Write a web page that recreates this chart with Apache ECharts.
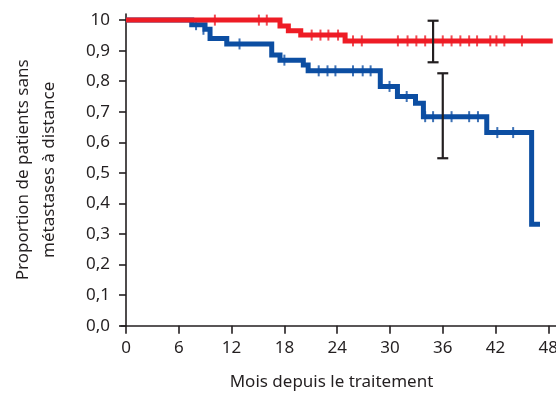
<!DOCTYPE html>
<html>
<head>
<meta charset="utf-8">
<script src="https://cdn.jsdelivr.net/npm/echarts@6/dist/echarts.min.js"></script>
<style>html,body{margin:0;padding:0;background:#fff;}#c{width:556px;height:395px;}</style>
</head>
<body>
<div id="c"></div>
<script>
// Kaplan-Meier curves (time in months, survival proportion after that time)
const redTimes = [0, 17.5, 18.45, 19.86, 24.9, 48.5];
const redSurv  = [1.0, 0.981, 0.965, 0.951, 0.932, 0.932];
const blueTimes = [0, 7.47, 8.98, 9.55, 11.45, 16.56, 17.5, 20.15, 20.7, 28.9, 30.85, 32.9, 33.8, 41.0, 46.1, 47.05];
const blueSurv  = [1.0, 0.985, 0.970, 0.940, 0.922, 0.886, 0.869, 0.853, 0.834, 0.783, 0.750, 0.728, 0.684, 0.632, 0.332, 0.332];
// censor marks
const redCensorT = [10.1, 15.1, 16.0, 21.1, 22.1, 23.0, 24.1, 25.8, 26.8, 30.9, 32.0, 33.0, 34.0, 36.0, 37.0, 38.0, 39.0, 39.9, 41.4, 42.1, 43.0, 45.0];
const redCensorS = [1.0, 1.0, 1.0, 0.951, 0.951, 0.951, 0.951, 0.932, 0.932, 0.932, 0.932, 0.932, 0.932, 0.932, 0.932, 0.932, 0.932, 0.932, 0.932, 0.932, 0.932, 0.932];
const blueCensorT = [7.96, 8.8, 12.9, 18.0, 21.9, 22.9, 23.8, 25.8, 26.9, 27.8, 29.95, 31.9, 34.0, 34.9, 37.0, 39.0, 40.0, 42.2, 44.0];
const blueCensorS = [0.985, 0.970, 0.922, 0.869, 0.834, 0.834, 0.834, 0.834, 0.834, 0.834, 0.783, 0.750, 0.684, 0.684, 0.684, 0.684, 0.684, 0.632, 0.632];
// error bars
const errX    = [34.9, 36.0];
const errLow  = [0.862, 0.548];
const errHigh = [0.998, 0.826];
// ticks
const xTickValues = [0, 6, 12, 18, 24, 30, 36, 42, 48];
const yTickValues = [0, 0.1, 0.2, 0.3, 0.4, 0.5, 0.6, 0.7, 0.8, 0.9, 1.0];
const yTickLabels = ['0,0', '0,1', '0,2', '0,3', '0,4', '0,5', '0,6', '0,7', '0,8', '0,9', '10'];
const xAxisTitle = 'Mois depuis le traitement';
const yAxisTitle = 'Proportion de patients sans\nmétastases à distance';

const RED = '#ee1c25', BLUE = '#0c4ea2', INK = '#231f20';
const FONT = 'Noto Sans';

const zip = (a, b) => a.map((v, i) => [v, b[i]]);

const chart = echarts.init(document.getElementById('c'), null, {renderer: 'canvas'});
chart.setOption({
  animation: false,
  backgroundColor: '#fff',
  grid: {left: 121, right: 0, top: 14, bottom: 69.3, containLabel: false, outerBoundsMode: 'none'},
  xAxis: {
    type: 'value', min: -0.57, max: 48.87,
    splitLine: {show: false},
    axisLine: {lineStyle: {color: INK, width: 1.6}},
    axisTick: {customValues: xTickValues, length: 8, lineStyle: {color: INK, width: 1.6}},
    axisLabel: {customValues: xTickValues, color: INK, fontFamily: FONT, fontSize: 17, margin: 14, hideOverlap: false},
    name: xAxisTitle, nameLocation: 'middle', nameGap: 48,
    nameTextStyle: {color: INK, fontFamily: FONT, fontSize: 17, padding: [0, 14, 0, 0]}
  },
  yAxis: {
    type: 'value', min: 0, max: 1.02,
    splitLine: {show: false},
    axisLine: {show: true, lineStyle: {color: INK, width: 1.6}},
    axisTick: {show: true, customValues: yTickValues, length: 7, lineStyle: {color: INK, width: 1.6}},
    axisLabel: {customValues: yTickValues, color: INK, fontFamily: FONT, fontSize: 17, margin: 11, hideOverlap: false,
      formatter: v => { const i = yTickValues.findIndex(t => Math.abs(t - v) < 1e-6); return i >= 0 ? yTickLabels[i] : ''; }},
    name: yAxisTitle, nameLocation: 'middle', nameGap: 59, nameRotate: 90,
    nameTextStyle: {color: INK, fontFamily: FONT, fontSize: 17, lineHeight: 26, align: 'center'}
  },
  series: [
    {type: 'line', step: 'end', data: zip(blueTimes, blueSurv), showSymbol: false,
     lineStyle: {color: BLUE, width: 5, cap: 'butt', join: 'miter'}, z: 2},
    {type: 'scatter', data: zip(blueCensorT, blueCensorS), symbol: 'rect', symbolSize: [2, 11],
     itemStyle: {color: BLUE}, z: 3},
    {type: 'line', step: 'end', data: zip(redTimes, redSurv), showSymbol: false,
     lineStyle: {color: RED, width: 5, cap: 'butt', join: 'miter'}, z: 4},
    {type: 'scatter', data: zip(redCensorT, redCensorS), symbol: 'rect', symbolSize: [2, 11],
     itemStyle: {color: RED}, z: 5},
    {type: 'custom', z: 10,
     data: errX.map((x, i) => [x, errLow[i], errHigh[i]]),
     renderItem: (params, api) => {
       const x = api.value(0);
       const pL = api.coord([x, api.value(1)]);
       const pH = api.coord([x, api.value(2)]);
       const st = {stroke: INK, lineWidth: 2.2};
       const hw = 5.5;
       return {type: 'group', children: [
         {type: 'line', shape: {x1: pL[0], y1: pL[1], x2: pH[0], y2: pH[1]}, style: st},
         {type: 'line', shape: {x1: pL[0] - hw, y1: pL[1], x2: pL[0] + hw, y2: pL[1]}, style: st},
         {type: 'line', shape: {x1: pH[0] - hw, y1: pH[1], x2: pH[0] + hw, y2: pH[1]}, style: st}
       ]};
     }}
  ]
});
</script>
</body>
</html>
